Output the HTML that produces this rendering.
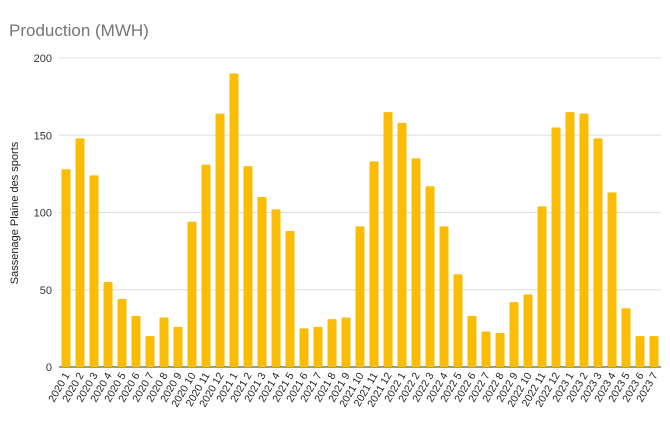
<!DOCTYPE html>
<html><head><meta charset="utf-8"><style>
body{margin:0;background:#fff;font-family:"Liberation Sans",sans-serif}
svg text{font-family:"Liberation Sans",sans-serif}
</style></head><body>
<svg id="chart" width="670" height="430">
<text x="9" y="36" font-size="17" fill="#757575">Production (MWH)</text>
<text transform="translate(18,213) rotate(-90)" text-anchor="middle" font-size="11" fill="#222">Sassenage Plaine des sports</text>
<g id="grid"></g><g id="bars"></g><g id="xl"></g>
</svg>
<script>
const categories=["2020 1","2020 2","2020 3","2020 4","2020 5","2020 6","2020 7","2020 8","2020 9","2020 10","2020 11","2020 12","2021 1","2021 2","2021 3","2021 4","2021 5","2021 6","2021 7","2021 8","2021 9","2021 10","2021 11","2021 12","2022 1","2022 2","2022 3","2022 4","2022 5","2022 6","2022 7","2022 8","2022 9","2022 10","2022 11","2022 12","2023 1","2023 2","2023 3","2023 4","2023 5","2023 6","2023 7"];
const values=[128,148,124,55,44,33,20,32,26,94,131,164,190,130,110,102,88,25,26,31,32,91,133,165,158,135,117,91,60,33,23,22,42,47,104,155,165,164,148,113,38,20,20];
const yTicks=[0,50,100,150,200];
const NS="http://www.w3.org/2000/svg";
const L=59,R=661,T=58,B=367,maxV=200;
const y=v=>B-(v/maxV)*(B-T);
const step=(R-L)/categories.length;
const x=i=>L+step*i+step/2;
function mk(t,a,p){const e=document.createElementNS(NS,t);for(const k in a)e.setAttribute(k,a[k]);p.appendChild(e);return e;}
const g=document.getElementById('grid');
yTicks.forEach(t=>{
 const ln=mk('line',{x1:L,x2:R,y1:y(t),y2:y(t),stroke:t===0?'#333':'#ddd','stroke-width':1},g);
 
 
 const tx=mk('text',{x:L-7,y:y(t)+4,'text-anchor':'end','font-size':11,fill:'#333'},g);
 tx.textContent=t;
 
 
});
const bg=document.getElementById('bars'),xl=document.getElementById('xl');
values.forEach((v,i)=>{
 const r=mk('rect',{x:x(i)-4.5,y:y(v),width:9,height:B-y(v),fill:'#fbbc04',rx:1},bg);
 
 
 const tx=mk('text',{transform:`translate(${x(i)+4},${B+8}) rotate(-60)`,'text-anchor':'end','font-size':10.5,fill:'#222'},xl);
 tx.textContent=categories[i];
 
 
});
</script>
</body></html>
